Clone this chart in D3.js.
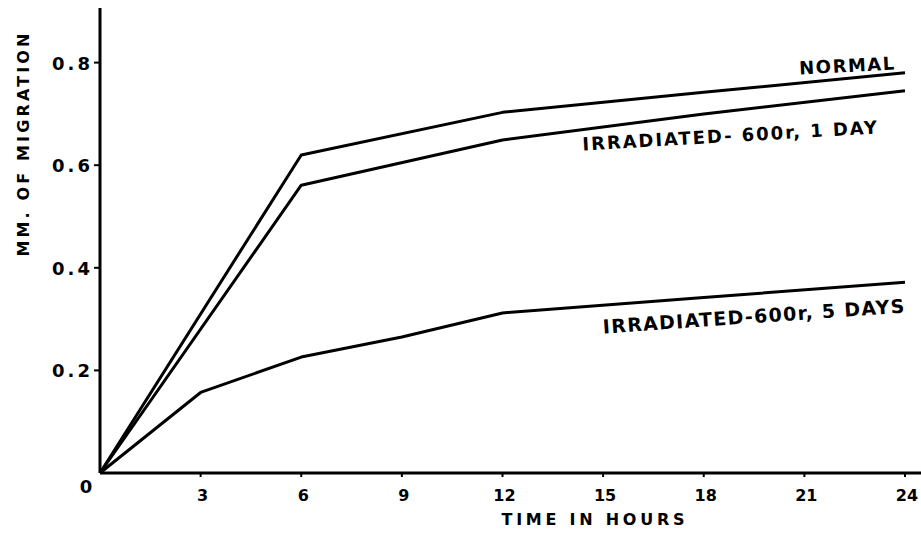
<!DOCTYPE html>
<html><head><meta charset="utf-8">
<script src="https://cdn.jsdelivr.net/npm/d3@7"></script>
<style>body{margin:0;background:#fff}svg{display:block}text{font-family:"DejaVu Sans",Arial,sans-serif;font-weight:bold;fill:#000}</style>
</head><body><svg id="c" width="921" height="543"></svg>
<script>
const xTicks = [3, 6, 9, 12, 15, 18, 21, 24];
const yTicks = [0.2, 0.4, 0.6, 0.8];
const normalX = [0, 6, 12, 18, 24];
const normalY = [0, 0.62, 0.703, 0.742, 0.78];
const day1X = [0, 6, 12, 18, 24];
const day1Y = [0, 0.561, 0.649, 0.700, 0.745];
const day5X = [0, 3, 6, 9, 12, 18, 24];
const day5Y = [0, 0.157, 0.226, 0.265, 0.312, 0.342, 0.372];
const labels = ["NORMAL", "IRRADIATED- 600r, 1 DAY", "IRRADIATED-600r, 5 DAYS"];

const svg = d3.select("#c");
const x = d3.scaleLinear().domain([0, 24]).range([100, 905]);
const y = d3.scaleLinear().domain([0, 0.8]).range([473, 62.6]);

// axes
svg.append("line").attr("x1", x(0)).attr("x2", 921).attr("y1", y(0)).attr("y2", y(0)).attr("stroke", "#000").attr("stroke-width", 3);
svg.append("line").attr("x1", x(0)).attr("x2", x(0)).attr("y1", y(0)).attr("y2", 8).attr("stroke", "#000").attr("stroke-width", 3);

svg.selectAll(".xt").data(xTicks).join("line").attr("x1", d => x(d)).attr("x2", d => x(d))
  .attr("y1", y(0)).attr("y2", y(0) + 4).attr("stroke", "#000").attr("stroke-width", 2);
svg.selectAll(".xl").data(xTicks).join("text").attr("x", d => x(d) + 2).attr("y", 501)
  .attr("text-anchor", "middle").attr("font-size", 16).text(d => d);
svg.append("text").attr("x", 86).attr("y", 493).attr("text-anchor", "middle").attr("font-size", 18).text("0");

svg.selectAll(".yt").data(yTicks).join("line").attr("x1", x(0) - 6).attr("x2", x(0))
  .attr("y1", d => y(d)).attr("y2", d => y(d)).attr("stroke", "#000").attr("stroke-width", 2);
svg.selectAll(".yl").data(yTicks).join("text").attr("x", 90).attr("y", d => y(d) + 7)
  .attr("text-anchor", "end").attr("font-size", 18).attr("textLength", 38).attr("lengthAdjust", "spacing")
  .text(d => d.toFixed(1));

svg.append("text").attr("transform", "translate(29,145) rotate(-90)").attr("text-anchor", "middle")
  .attr("font-size", 16).attr("textLength", 223).attr("lengthAdjust", "spacing").text("MM.  OF  MIGRATION");
svg.append("text").attr("x", 593).attr("y", 525).attr("text-anchor", "middle")
  .attr("font-size", 16).attr("textLength", 183).attr("lengthAdjust", "spacing").text("TIME  IN  HOURS");

const line = d3.line().x(d => x(d[0])).y(d => y(d[1]));
[[normalX, normalY], [day1X, day1Y], [day5X, day5Y]].forEach(([xs, ys]) => {
  svg.append("path").datum(xs.map((v, i) => [v, ys[i]])).attr("d", line)
    .attr("fill", "none").attr("stroke", "#000").attr("stroke-width", 3).attr("stroke-linejoin", "round");
});

svg.append("text").attr("transform", "translate(847,72) rotate(-3)").attr("text-anchor", "middle")
  .attr("font-size", 18).attr("textLength", 95).attr("lengthAdjust", "spacing").text(labels[0]);
svg.append("text").attr("transform", "translate(730,142) rotate(-3.3)").attr("text-anchor", "middle")
  .attr("font-size", 18).attr("textLength", 295).attr("lengthAdjust", "spacing").text(labels[1]);
svg.append("text").attr("transform", "translate(754,323) rotate(-4)").attr("text-anchor", "middle")
  .attr("font-size", 19).attr("textLength", 302).attr("lengthAdjust", "spacing").text(labels[2]);
</script></body></html>
